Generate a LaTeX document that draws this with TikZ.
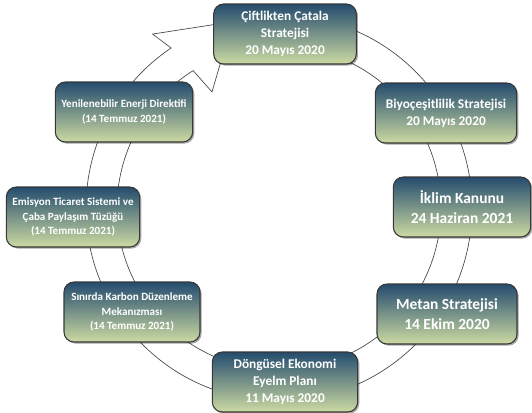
\documentclass[tikz,border=0pt]{standalone}
\usepackage{fontspec}
\setmainfont{Carlito}
\usepackage{tikz}
\usetikzlibrary{shadows, calc}
\definecolor{boxTop}{RGB}{36, 76, 110}
\definecolor{boxBottom}{RGB}{204, 218, 162}
\definecolor{boxLine}{RGB}{56, 56, 56}
\definecolor{ringLine}{RGB}{70, 70, 70}
\tikzstyle{basic} = [rectangle, rounded corners=7.5pt, minimum width=106pt, minimum height=45pt, align=center, draw=boxLine, line width=0.8pt, top color=boxTop, bottom color=boxBottom, text=white, drop shadow={shadow xshift=1.2pt, shadow yshift=-1.2pt, opacity=0.35, fill=black}]
\tikzstyle{midtext} = [font=\bfseries\fontsize{10}{12.8}\selectfont]
\tikzstyle{bigtext} = [font=\bfseries\fontsize{11.6}{15}\selectfont]
\tikzstyle{smalltext} = [font=\bfseries\fontsize{8.3}{11.2}\selectfont]
\tikzstyle{ring} = [fill=white, draw=ringLine, line width=0.5pt]

\begin{document}
\begin{tikzpicture}[x=0.75pt, y=0.75pt]
\useasboundingbox (0,0) rectangle (532,412);

\coordinate (centre) at (279,204);

\draw [ring] ($(centre)+(80:193)$) arc [start angle=80, end angle=-236, radius=193]
  -- ($(centre)+(126:215)$) -- ($(centre)+(104:192)$) -- ($(centre)+(120:134)$)
  -- ($(centre)+(122:162)$) arc [start angle=-238, end angle=80, radius=162] -- cycle;

\node (farm) [basic, midtext, minimum width=107pt] at(285,378) {Çiftlikten Çatala\\Stratejisi\\20 Mayıs 2020};
\node (biodiv) [basic, midtext] at(446,299) {Biyoçeşitlilik Stratejisi\\20 Mayıs 2020};
\node (climate) [basic, bigtext, minimum width=103pt] at(462,205) {İklim Kanunu\\24 Haziran 2021};
\node (methane) [basic, bigtext, minimum width=105pt] at(447,98) {Metan Stratejisi\\14 Ekim 2020};
\node (circular) [basic, midtext, minimum width=109pt] at(285,30) {Döngüsel Ekonomi\\Eyelm Planı\\11 Mayıs 2020};
\node (carbon) [basic, smalltext, minimum width=102pt] at(132,100) {Sınırda Karbon Düzenleme\\Mekanızması\\(14 Temmuz 2021)};
\node (emission) [basic, smalltext, minimum width=100pt] at(73,195) {Emisyon Ticaret Sistemi ve\\Çaba Paylaşım Tüzüğü\\(14 Temmuz 2021)};
\node (renewable) [basic, smalltext, minimum width=103pt] at(124,300) {Yenilenebilir Enerji Direktifi\\(14 Temmuz 2021)};

\end{tikzpicture}
\end{document}
